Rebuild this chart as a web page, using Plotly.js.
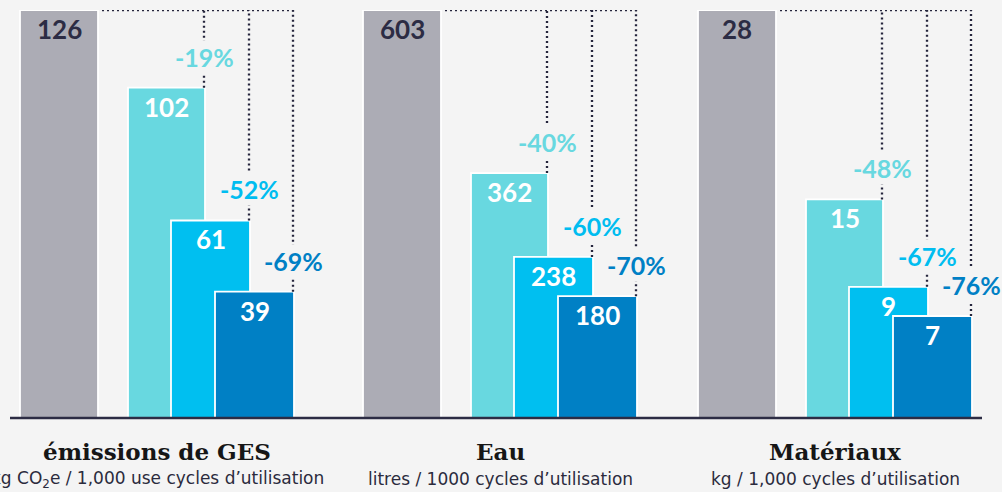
<!DOCTYPE html>
<html>
<head>
<meta charset="utf-8">
<script src="https://cdn.plot.ly/plotly-3.0.1.min.js"></script>
<style>
  html, body { margin: 0; padding: 0; background: #f4f4f4; }
  #chart { width: 1002px; height: 492px; }
</style>
</head>
<body>
<div id="chart"></div>
<script>
// ---- data ----
const categories = ['émissions de GES', 'Eau', 'Matériaux'];
const units = ['kg CO<sub>2</sub>e / 1,000 use cycles d’utilisation',
               'litres / 1000 cycles d’utilisation',
               'kg / 1,000 cycles d’utilisation'];
const baseline = [126, 603, 28];
const series1 = [102, 362, 15];
const series2 = [61, 238, 9];
const series3 = [39, 180, 7];
const pct1 = ['-19%', '-40%', '-48%'];
const pct2 = ['-52%', '-60%', '-67%'];
const pct3 = ['-69%', '-70%', '-76%'];

// ---- layout constants ----
const GROUP_LEFT = [20, 363, 698];
const BAR_OFF = [0, 108, 151, 195];
const BAR_W = [78, 77, 79, 79];
const COLORS = ['#acacb5', '#68d8e0', '#00bff0', '#0080c5'];
const PCT_COLORS = [null, '#68d8e0', '#00bdf0', '#0080c5'];
const NAVY = '#2c2c44';
const LABEL_FONT = 'Lato, "Open Sans", sans-serif';

const traces = [];
const shapes = [];
const annotations = [];

categories.forEach((cat, g) => {
  const vals = [baseline[g], series1[g], series2[g], series3[g]];
  const pcts = [null, pct1[g], pct2[g], pct3[g]];
  const yref = g === 0 ? 'y' : 'y' + (g + 1);
  const centers = BAR_OFF.map((o, i) => GROUP_LEFT[g] + o + BAR_W[i] / 2);
  const rights = BAR_OFF.map((o, i) => GROUP_LEFT[g] + o + BAR_W[i]);
  traces.push({
    type: 'bar',
    x: centers,
    y: vals,
    width: BAR_W,
    xaxis: 'x',
    yaxis: yref,
    marker: { color: COLORS, line: { color: '#ffffff', width: 1.8 } },
    hoverinfo: 'skip',
    showlegend: false
  });
  // value labels
  vals.forEach((v, i) => {
    annotations.push({
      xref: 'x', yref: yref, x: centers[i], y: v,
      yanchor: 'middle', xanchor: 'center', yshift: -19, showarrow: false,
      text: '<b>' + v + '</b>',
      font: { family: LABEL_FONT, size: 26, weight: 900, color: i === 0 ? NAVY : '#ffffff' }
    });
  });
  // dotted guide lines
  const topY = baseline[g];
  shapes.push({
    type: 'line', xref: 'x', yref: yref,
    x0: rights[0] + 4, x1: rights[3] + 1, y0: topY, y1: topY,
    line: { color: '#25253c', width: 2.3, dash: '2px,3px' }
  });
  for (let i = 1; i < 4; i++) {
    const lx = rights[i] - 1;
    shapes.push({
      type: 'line', xref: 'x', yref: yref,
      x0: lx, x1: lx, y0: vals[i], y1: topY,
      line: { color: '#25253c', width: 2.3, dash: '2px,3px' }
    });
    annotations.push({
      xref: 'x', yref: yref, x: lx, y: vals[i],
      yanchor: 'middle', xanchor: 'center', yshift: 31, showarrow: false,
      bgcolor: '#f4f4f4', borderpad: 1,
      text: '<b>' + pcts[i] + '</b>',
      font: { family: LABEL_FONT, size: 25, weight: 900, color: PCT_COLORS[i] }
    });
  }
  // category titles
  const gc = (GROUP_LEFT[g] + rights[3]) / 2;
  annotations.push({
    xref: 'x', yref: 'paper', x: gc, y: 0, yanchor: 'middle', yshift: -33,
    showarrow: false, text: '<b>' + cat + '</b>',
    font: { family: '"DejaVu Serif", serif', size: 23, color: '#161616' }
  });
  annotations.push({
    xref: 'x', yref: 'paper', x: gc, y: 0, yanchor: 'middle', yshift: -61,
    showarrow: false, text: units[g],
    font: { family: '"DejaVu Sans", sans-serif', size: 17, color: '#2b2b3d' }
  });
});

// baseline axis line
shapes.push({
  type: 'line', xref: 'x', yref: 'paper', x0: 10, x1: 982, y0: 0, y1: 0,
  line: { color: NAVY, width: 2.5 }
});

const hiddenY = (r, extra) => Object.assign({
  range: [0, r], domain: [0, 1], visible: false, fixedrange: true
}, extra || {});

const layout = {
  width: 1002, height: 492,
  margin: { l: 0, r: 0, t: 10, b: 74, pad: 0 },
  paper_bgcolor: '#f4f4f4', plot_bgcolor: '#f4f4f4',
  barmode: 'overlay',
  showlegend: false,
  xaxis: { range: [0, 1002], visible: false, fixedrange: true },
  yaxis: hiddenY(baseline[0]),
  yaxis2: hiddenY(baseline[1], { overlaying: 'y' }),
  yaxis3: hiddenY(baseline[2], { overlaying: 'y' }),
  shapes: shapes,
  annotations: annotations
};

Plotly.newPlot('chart', traces, layout, { staticPlot: true, displayModeBar: false });
</script>
</body>
</html>
